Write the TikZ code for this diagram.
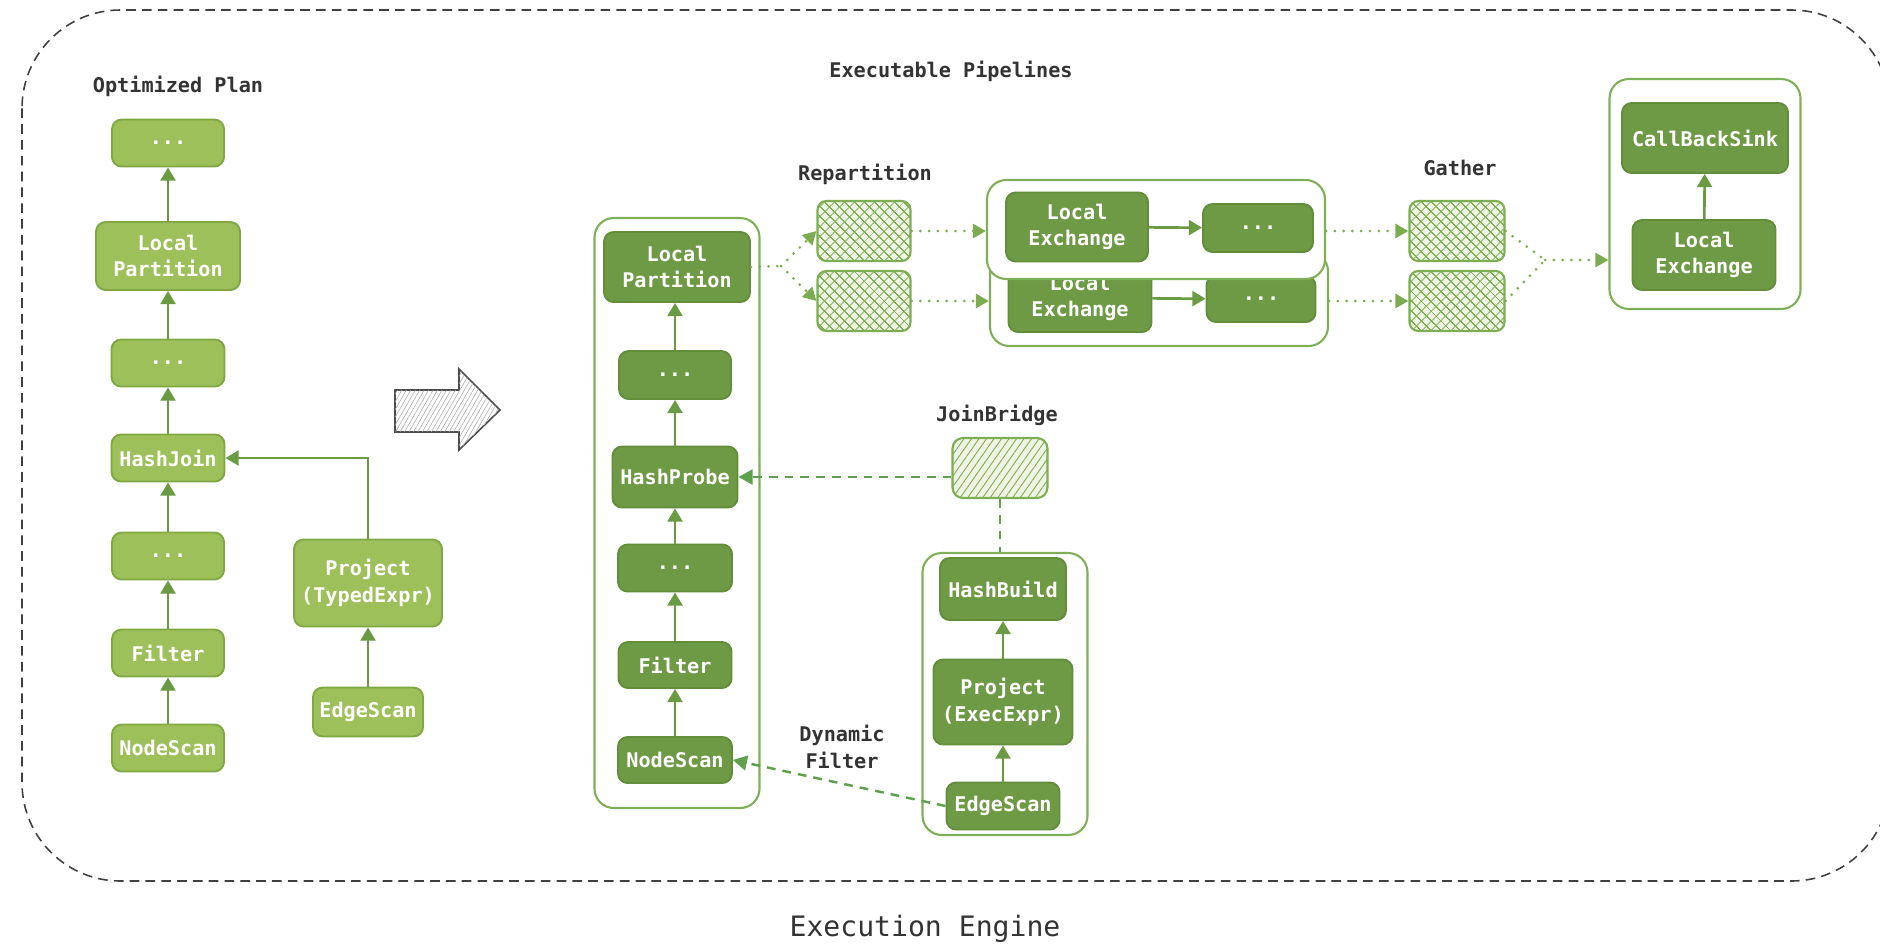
\documentclass[tikz,border=0pt]{standalone}
\usepackage{fontspec}
\setmonofont{DejaVu Sans Mono}
\usetikzlibrary{arrows.meta,patterns.meta,calc}
\definecolor{lgfill}{HTML}{9DC05A}
\definecolor{lgborder}{HTML}{80A842}
\definecolor{dgfill}{HTML}{6F9A45}
\definecolor{dgborder}{HTML}{628D3B}
\definecolor{contc}{HTML}{7FB058}
\definecolor{arrc}{HTML}{6A9A42}
\definecolor{dashc}{HTML}{5FA04C}
\definecolor{dotc}{HTML}{7DAC50}
\definecolor{hatchc}{HTML}{7DAE52}
\definecolor{hatchbg}{HTML}{EEF5E4}
\definecolor{titlec}{HTML}{333333}
\begin{document}
\begin{tikzpicture}[x=0.02cm,y=-0.02cm,
  sz/.style 2 args={minimum width=#1*0.02cm, minimum height=#2*0.02cm},
  boxfont/.style={font=\ttfamily\bfseries\fontsize{11.5}{15}\selectfont},
  lbox/.style={draw=lgborder, fill=lgfill, line width=1.1pt, rounded corners=5.5pt, text=white, align=center, inner sep=0pt, boxfont},
  dbox/.style={draw=dgborder, fill=dgfill, line width=1.1pt, rounded corners=5.5pt, text=white, align=center, inner sep=0pt, boxfont},
  cont/.style={draw=contc, fill=white, line width=1.2pt, rounded corners=11pt, inner sep=0pt},
  hatchx/.style={draw=hatchc, fill=hatchbg, line width=1.2pt, rounded corners=5pt, inner sep=0pt,
     postaction={pattern={Hatch[angle=45,distance=4pt,line width=0.5pt]}, pattern color=hatchc}},
  hatchl/.style={draw=hatchc, fill=hatchbg, line width=1.2pt, rounded corners=6pt, inner sep=0pt,
     postaction={pattern={Lines[angle=55,distance=3.5pt,line width=0.5pt]}, pattern color=hatchc}},
  arr/.style={draw=arrc, line width=1.5pt, -{Triangle[length=7.5pt,width=8.5pt]}},
  dashln/.style={draw=dashc, line width=1.4pt, dash pattern=on 5pt off 4pt},
  dasharr/.style={dashln, -{Triangle[length=8pt,width=8.5pt]}},
  dotln/.style={draw=dotc, line width=1.7pt, line cap=round, dash pattern=on 0pt off 5pt},
  dotarr/.style={dotln, -{Triangle[length=7.5pt,width=8pt]}},
  title/.style={font=\ttfamily\bfseries\fontsize{11.5}{15}\selectfont, text=titlec, align=center, inner sep=0pt},
  bigtitle/.style={font=\ttfamily\fontsize{16}{19}\selectfont, text=titlec, inner sep=0pt},
  bigarrow/.style={draw=black!70, line width=0.9pt, fill=white, line join=miter,
     postaction={pattern={Lines[angle=60,distance=2.2pt,line width=0.3pt]}, pattern color=black!35}}
]
\useasboundingbox (0,0) rectangle (1880,947);

% outer frame
\draw[draw=black!75, line width=0.9pt, dash pattern=on 5.5pt off 3.5pt, rounded corners=56pt] (22,10) rectangle (1890,881);

% titles
\node[title] (tOP) at (178,86) {Optimized Plan};
\node[title] (tEP) at (951,71) {Executable Pipelines};
\node[bigtitle] (tEE) at (925,929) {Execution Engine};

% ---------- optimized plan ----------
\node[lbox, sz={112}{47}] (o1) at (168,143) {...};
\node[lbox, sz={144}{68}] (o2) at (168,256) {Local\\Partition};
\node[lbox, sz={113}{47}] (o3) at (168,363) {...};
\node[lbox, sz={113}{47}] (o4) at (168,458) {HashJoin};
\node[lbox, sz={112}{47}] (o5) at (168,556) {...};
\node[lbox, sz={112}{47}] (o6) at (168,653) {Filter};
\node[lbox, sz={112}{47}] (o7) at (168,748) {NodeScan};
\node[lbox, sz={148}{87}] (o8) at (368,583) {Project\\(TypedExpr)};
\node[lbox, sz={110}{49}] (o9) at (368,712) {EdgeScan};
\draw[arr] (o7) -- (o6);
\draw[arr] (o6) -- (o5);
\draw[arr] (o5) -- (o4);
\draw[arr] (o4) -- (o3);
\draw[arr] (o3) -- (o2);
\draw[arr] (o2) -- (o1);
\draw[arr] (o9) -- (o8);
\draw[arr] (o8.north) |- (o4.east);

% big arrow
\draw[bigarrow] (395,390) -- (459,390) -- (459,369) -- (500,410) -- (459,450) -- (459,432) -- (395,432) -- cycle;

% ---------- probe pipeline ----------
\node[cont, sz={165}{590}] (c1) at (677,513) {};
\node[dbox, sz={146}{70}] (p1) at (677,267) {Local\\Partition};
\node[dbox, sz={112}{48}] (p2) at (675,375) {...};
\node[dbox, sz={125}{61}] (p3) at (675,477) {HashProbe};
\node[dbox, sz={114}{47}] (p4) at (675,568) {...};
\node[dbox, sz={113}{46}] (p5) at (675,665) {Filter};
\node[dbox, sz={114}{46}] (p6) at (675,760) {NodeScan};
\draw[arr] (p6) -- (p5);
\draw[arr] (p5) -- (p4);
\draw[arr] (p4) -- (p3);
\draw[arr] (p3) -- (p2);
\draw[arr] (p2) -- (p1.south -| p2);

% ---------- build pipeline ----------
\node[cont, sz={165}{282}] (c2) at (1005,694) {};
\node[dbox, sz={126}{62}] (b1) at (1003,589) {HashBuild};
\node[dbox, sz={139}{85}] (b2) at (1003,702) {Project\\(ExecExpr)};
\node[dbox, sz={113}{47}] (b3) at (1003,806) {EdgeScan};
\draw[arr] (b3) -- (b2);
\draw[arr] (b2) -- (b1);
\node[hatchl, sz={95}{60}] (jb) at (1000,468) {};
\node[title] (jbl) at (997,415) {JoinBridge};
\draw[dashln] (jb.south) -- (jb.south |- c2.north);
\draw[dasharr] (jb.west |- p3.east) -- (p3.east);
\draw[dasharr] (b3.west) -- (p6.east);
\node[title] (dyn) at (842,747) {Dynamic\\Filter};

% ---------- repartition ----------
\node[title] (rpl) at (865,174) {Repartition};
\node[hatchx, sz={93}{60}] (r1) at (864,231) {};
\node[hatchx, sz={93}{60}] (r2) at (864,301) {};
\coordinate (sp) at (781,266);
\draw[dotln] (p1.east) -- (sp);
\draw[dotarr] (sp) -- (r1.west);
\draw[dotarr] (sp) -- (r2.west);

% lower exchange pipeline
\node[cont, sz={338}{94}] (cb) at (1159,299) {};
\node[dbox, sz={143}{68}] (e2) at (1080,298) {Local\\Exchange};
\node[dbox, sz={109}{46}] (f2) at (1261,299) {...};
\draw[arr] (e2) -- (f2);
% upper exchange pipeline
\node[cont, sz={338}{99}] (ca) at (1156,229.5) {};
\node[dbox, sz={142}{69}] (e1) at (1077,227) {Local\\Exchange};
\node[dbox, sz={110}{48}] (f1) at (1258,228) {...};
\draw[arr] (e1) -- (f1);
\draw[dotarr] (r1.east) -- (r1.east -| ca.west);
\draw[dotarr] (r2.east) -- (r2.east -| cb.west);

% ---------- gather ----------
\node[title] (gl) at (1460,168) {Gather};
\node[hatchx, sz={95}{60}] (g1) at (1457,231) {};
\node[hatchx, sz={95}{60}] (g2) at (1457,301) {};
\draw[dotarr] (g1.west -| ca.east) -- (g1.west);
\draw[dotarr] (g2.west -| cb.east) -- (g2.west);
\coordinate (mg) at (1545,260);
\draw[dotln] (g1.east) -- (mg);
\draw[dotln] (g2.east) -- (mg);

% ---------- sink pipeline ----------
\node[cont, sz={191}{230}] (c3) at (1705,194) {};
\draw[dotarr] (mg) -- (mg -| c3.west);
\node[dbox, sz={166}{70}] (k1) at (1705,138) {CallBackSink};
\node[dbox, sz={143}{70}] (k2) at (1704,255) {Local\\Exchange};
\draw[arr] (k2) -- (k1);
\end{tikzpicture}
\end{document}
